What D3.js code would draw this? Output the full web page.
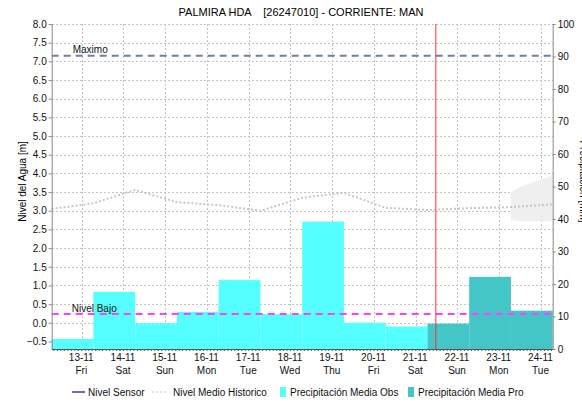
<!DOCTYPE html>
<html lang="es">
<head>
    <meta charset="UTF-8">
    <title>PALMIRA HDA</title>
    <script src="https://cdnjs.cloudflare.com/ajax/libs/d3/7.8.5/d3.min.js"></script>
    <style>
        body { margin: 0; background: #fff; font-family: "Liberation Sans", Arial, sans-serif; }
        svg { display: block; }
        .grid line { stroke: #c4c4c4; stroke-dasharray: 2,2; shape-rendering: crispEdges; }
        .tick-label { font-size: 10px; fill: #111; }
        .legend text { font-size: 10px; fill: #111; }
    </style>
</head>
<body>
<div id="chart"></div>
<script>
    // ---- data ----
    const dayStart = "2015-11-12T07:00";           // first hydrological day start
    const dayLabels = ["13-11","14-11","15-11","16-11","17-11","18-11","19-11","20-11","21-11","22-11","23-11","24-11"];
    const weekDays  = ["Fri","Sat","Sun","Mon","Tue","Wed","Thu","Fri","Sat","Sun","Mon","Tue"];
    const precipObs = [3.1, 17.6, 7.9, 11.4, 21.2, 10.7, 39.2, 8.1, 6.9];   // mm, right axis
    const precipPro = [7.8, 22.2, 11.8];                                    // forecast, mm
    const histLevel = [3.05, 3.2, 3.56, 3.23, 3.15, 3.0, 3.35, 3.48, 3.08, 3.02, 3.07, 3.1, 3.17]; // m, at 07:00 each day
    const bandDays  = [11, 11.25, 12];
    const bandLow   = [2.75, 2.72, 2.72];
    const bandHigh  = [3.5, 3.65, 3.95];
    const nivelMaximo = 7.15;
    const nivelBajo = 0.24;
    const nowTime = "2015-11-21T11:50";
    const leftTicks = d3.range(-0.5, 8.01, 0.5);
    const rightTicks = d3.range(0, 101, 10);

    const W = 582, H = 403;
    const margin = {top: 24, right: 29.3, bottom: 54, left: 51.7};
    const innerW = W - margin.left - margin.right;
    const innerH = H - margin.top - margin.bottom;

    const svg = d3.select("#chart").append("svg")
        .attr("width", W).attr("height", H);
    const g = svg.append("g").attr("transform", `translate(${margin.left},${margin.top})`);

    const t0 = new Date(dayStart);
    const dayMs = 24 * 3600 * 1000;
    const atDay = k => new Date(t0.getTime() + k * dayMs);

    const x = d3.scaleTime().domain([atDay(0), atDay(12)]).range([0, innerW]);
    const yL = d3.scaleLinear().domain([-0.7, 8]).range([innerH, 0]);
    const yR = d3.scaleLinear().domain([0, 100]).range([innerH, 0]);

    // midnight ticks for day labels
    const dayTicks = dayLabels.map((d, i) => new Date(2015, 10, 13 + i));

    // grid
    g.append("g").attr("class", "grid")
        .selectAll("line").data(leftTicks).join("line")
        .attr("x1", 0).attr("x2", innerW)
        .attr("y1", d => Math.round(yL(d)) + 0.5).attr("y2", d => Math.round(yL(d)) + 0.5);
    g.append("g").attr("class", "grid")
        .selectAll("line").data(dayTicks).join("line")
        .attr("x1", d => Math.round(x(d)) + 0.5).attr("x2", d => Math.round(x(d)) + 0.5)
        .attr("y1", 0).attr("y2", innerH);

    // historical band
    const bandData = bandDays.map((k, i) => ({t: atDay(k), lo: bandLow[i], hi: bandHigh[i]}));
    g.append("path").datum(bandData)
        .attr("fill", "#efefef")
        .attr("d", d3.area().x(d => x(d.t)).y0(d => yL(d.lo)).y1(d => yL(d.hi)));

    // precipitation bars
    g.selectAll(".obs").data(precipObs).join("rect")
        .attr("class", "obs")
        .attr("x", (d, i) => x(atDay(i)))
        .attr("width", (d, i) => x(atDay(i + 1)) - x(atDay(i)))
        .attr("y", d => yR(d))
        .attr("height", d => innerH - yR(d))
        .attr("fill", "#55ffff");
    g.selectAll(".pro").data(precipPro).join("rect")
        .attr("class", "pro")
        .attr("x", (d, i) => x(atDay(i + precipObs.length)))
        .attr("width", (d, i) => x(atDay(i + 1)) - x(atDay(i)))
        .attr("y", d => yR(d))
        .attr("height", d => innerH - yR(d))
        .attr("fill", "#44c6c6");

    // historical mean level
    g.append("path").datum(histLevel)
        .attr("fill", "none")
        .attr("stroke", "#c8c8c8")
        .attr("stroke-width", 2)
        .attr("stroke-dasharray", "2,2")
        .attr("d", d3.line().x((d, i) => x(atDay(i))).y(d => yL(d)));

    // reference levels
    g.append("line")
        .attr("x1", 0).attr("x2", innerW)
        .attr("y1", yL(nivelMaximo)).attr("y2", yL(nivelMaximo))
        .attr("stroke", "#6f7fa8").attr("stroke-width", 2).attr("stroke-dasharray", "7,5");
    g.append("text").attr("class", "tick-label")
        .attr("x", 21).attr("y", yL(nivelMaximo) - 2.5).text("Maximo");
    g.append("line")
        .attr("x1", 0).attr("x2", innerW)
        .attr("y1", yL(nivelBajo)).attr("y2", yL(nivelBajo))
        .attr("stroke", "#ff40ff").attr("stroke-width", 2).attr("stroke-dasharray", "7,5");
    g.append("text").attr("class", "tick-label")
        .attr("x", 20).attr("y", yL(nivelBajo) - 2).text("Nivel Bajo");

    // current time marker
    g.append("line")
        .attr("x1", x(new Date(nowTime))).attr("x2", x(new Date(nowTime)))
        .attr("y1", 0).attr("y2", innerH)
        .attr("stroke", "#ff3030").attr("stroke-width", 1);

    // left axis
    const axL = g.append("g")
        .call(d3.axisLeft(yL).tickValues(leftTicks).tickFormat(d3.format(".1f")).tickSize(3).tickPadding(2));
    axL.select(".domain").attr("stroke", "#888").attr("d", `M0.5,0V${innerH}`);
    axL.selectAll(".tick line").attr("stroke", "#888");
    axL.selectAll("text").attr("class", "tick-label").attr("font-family", null).attr("font-size", null);

    // right axis
    const axR = g.append("g").attr("transform", `translate(${innerW},0)`)
        .call(d3.axisRight(yR).tickValues(rightTicks).tickSize(3).tickPadding(2));
    axR.select(".domain").attr("stroke", "#888").attr("d", `M0.5,0V${innerH}`);
    axR.selectAll(".tick line").attr("stroke", "#888");
    axR.selectAll("text").attr("class", "tick-label").attr("font-family", null).attr("font-size", null);

    // bottom axis with minor hourly ticks
    const axB = g.append("g").attr("transform", `translate(0,${innerH})`)
        .call(d3.axisBottom(x).ticks(d3.timeHour.every(2)).tickSize(2).tickFormat(""));
    axB.select(".domain").attr("stroke", "#555").attr("d", `M0,0.5H${innerW}`);
    axB.selectAll(".tick line").attr("stroke", "#555");

    const dayLab = g.append("g").attr("transform", `translate(0,${innerH})`)
        .selectAll("g").data(dayTicks).join("g")
        .attr("transform", d => `translate(${x(d)},0)`);
    dayLab.append("text").attr("class", "tick-label")
        .attr("text-anchor", "middle").attr("y", 12)
        .text((d, i) => dayLabels[i]);
    dayLab.append("text").attr("class", "tick-label")
        .attr("text-anchor", "middle").attr("y", 25)
        .text((d, i) => weekDays[i]);

    // titles
    svg.append("text")
        .attr("x", 301).attr("y", 16)
        .attr("text-anchor", "middle")
        .attr("font-size", 11)
        .style("white-space", "pre")
        .text("PALMIRA HDA    [26247010] - CORRIENTE: MAN");
    svg.append("text")
        .attr("transform", `translate(26,${margin.top + innerH / 2 - 5}) rotate(-90)`)
        .attr("text-anchor", "middle")
        .attr("font-size", 10)
        .text("Nivel del Agua [m]");
    // right axis title, mostly outside the canvas as in the original
    svg.append("text")
        .attr("transform", `translate(580,${margin.top + innerH / 2 - 5}) rotate(90)`)
        .attr("text-anchor", "middle")
        .attr("font-size", 10)
        .text("Precipitación [mm]");

    // legend
    const legend = svg.append("g").attr("class", "legend").attr("transform", "translate(0,392)");
    legend.append("line").attr("x1", 72).attr("x2", 85).attr("y1", 0).attr("y2", 0)
        .attr("stroke", "#0000cc").attr("stroke-width", 1.2);
    legend.append("text").attr("x", 88).attr("y", 4).text("Nivel Sensor");
    legend.append("line").attr("x1", 152).attr("x2", 167).attr("y1", 0).attr("y2", 0)
        .attr("stroke", "#c8c8c8").attr("stroke-width", 1.2).attr("stroke-dasharray", "2,2");
    legend.append("text").attr("x", 173).attr("y", 4).text("Nivel Medio Historico");
    legend.append("rect").attr("x", 280).attr("y", -5).attr("width", 6).attr("height", 10).attr("fill", "#55ffff");
    legend.append("text").attr("x", 290).attr("y", 4).text("Precipitación Media Obs");
    legend.append("rect").attr("x", 408).attr("y", -5).attr("width", 6).attr("height", 10).attr("fill", "#44c6c6");
    legend.append("text").attr("x", 418).attr("y", 4).text("Precipitación Media Pro");
</script>
</body>
</html>
